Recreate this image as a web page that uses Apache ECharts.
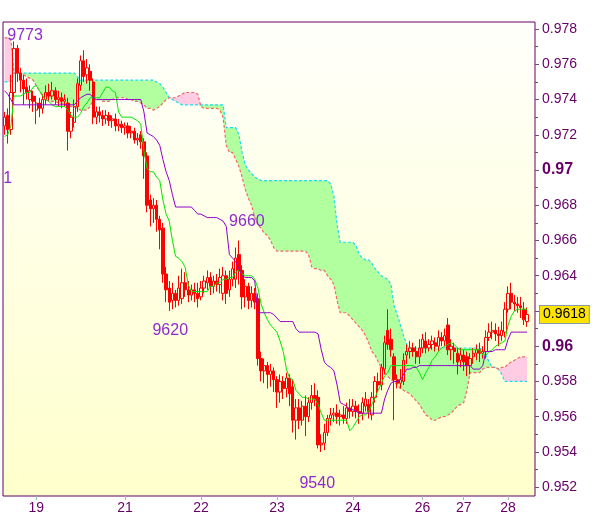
<!DOCTYPE html>
<html><head><meta charset="utf-8">
<script src="https://cdn.jsdelivr.net/npm/echarts@6/dist/echarts.min.js"></script>
<style>html,body{margin:0;padding:0;background:#fff;}#c{width:600px;height:519px;}</style>
</head><body><div id="c"></div>
<script>
// ---- data (prices in pips, 1 pip = 0.0001) ----
const slotCount = 168;
const open = [
9725,9731,9723,9744,9769,9755,9751,9747,9740,9742,
9734,9738,9735,9740,9744,9742,9745,9740,9741,9739,
9738,9722,9727,9736,9748,9762,9754,9756,9750,9730,
9733,9731,9729,9731,9728,9729,9725,9726,9724,9725,
9721,9722,9717,9720,9716,9708,9683,9678,9680,9672,
9667,9641,9633,9626,9630,9626,9627,9636,9632,9629,
9632,9630,9628,9633,9636,9639,9634,9637,9635,9630,
9640,9632,9638,9638,9652,9643,9628,9634,9626,9630,
9627,9593,9586,9589,9584,9586,9581,9574,9580,9576,
9582,9577,9558,9565,9558,9566,9560,9568,9572,9571,
9544,9545,9551,9559,9561,9562,9560,9561,9559,9565,
9563,9566,9563,9562,9566,9567,9561,9571,9580,9578,
9587,9609,9604,9594,9581,9579,9580,9595,9597,9599,
9597,9594,9599,9603,9599,9601,9602,9600,9605,9603,
9612,9598,9599,9596,9592,9595,9594,9589,9594,9596,
9598,9596,9597,9605,9608,9609,9607,9606,9608,9621,
9630,9625,9624,9623,9621,9614];
const close = [
9730,9723,9744,9769,9755,9751,9746,9744,9745,9739,
9738,9735,9740,9744,9742,9745,9740,9741,9739,9740,
9722,9730,9736,9749,9762,9753,9758,9751,9730,9733,
9731,9729,9731,9728,9729,9725,9726,9724,9725,9721,
9722,9717,9718,9716,9708,9680,9678,9680,9672,9666,
9641,9632,9625,9630,9626,9633,9636,9632,9629,9632,
9630,9627,9633,9637,9639,9634,9637,9635,9639,9640,
9630,9638,9644,9650,9643,9628,9634,9626,9630,9625,
9593,9586,9589,9584,9586,9581,9574,9580,9576,9582,
9573,9558,9565,9558,9566,9560,9568,9572,9570,9544,
9545,9551,9559,9561,9562,9560,9561,9559,9565,9563,
9566,9563,9562,9568,9570,9563,9571,9580,9578,9588,
9602,9601,9598,9581,9579,9581,9592,9597,9599,9597,
9594,9599,9604,9599,9601,9603,9600,9605,9603,9606,
9598,9600,9597,9591,9595,9591,9589,9593,9596,9598,
9596,9597,9605,9608,9609,9607,9606,9609,9621,9630,
9625,9624,9623,9622,9615,9618];
const low = [
9720,9715,9720,9740,9750,9744,9737,9740,9735,9733,
9726,9730,9732,9737,9739,9740,9737,9736,9735,9736,
9711,9718,9724,9733,9745,9750,9749,9745,9726,9726,
9727,9725,9726,9725,9724,9722,9722,9721,9720,9718,
9718,9715,9714,9712,9695,9676,9668,9670,9665,9655,
9636,9625,9620,9621,9622,9623,9624,9628,9625,9626,
9625,9622,9626,9630,9632,9629,9630,9631,9630,9626,
9624,9628,9634,9633,9635,9621,9622,9621,9622,9621,
9589,9580,9579,9576,9577,9574,9565,9568,9570,9571,
9566,9551,9547,9553,9555,9549,9557,9564,9566,9542,
9540,9541,9549,9555,9557,9556,9555,9556,9556,9559,
9560,9559,9556,9558,9563,9559,9558,9568,9574,9575,
9584,9598,9594,9558,9576,9576,9578,9590,9593,9594,
9590,9590,9596,9596,9597,9598,9597,9597,9600,9600,
9595,9592,9590,9584,9588,9586,9583,9584,9590,9592,
9591,9593,9593,9603,9604,9603,9600,9603,9605,9619,
9621,9620,9619,9616,9612,9611];
const high = [
9733,9735,9754,9773,9771,9758,9754,9752,9748,9745,
9742,9741,9743,9748,9749,9750,9747,9745,9744,9743,
9741,9733,9740,9752,9765,9768,9763,9760,9752,9736,
9736,9734,9734,9733,9731,9732,9729,9728,9727,9727,
9725,9724,9721,9722,9718,9710,9686,9684,9683,9674,
9670,9645,9637,9636,9632,9640,9644,9642,9637,9635,
9636,9636,9637,9640,9643,9642,9640,9641,9644,9645,
9643,9643,9648,9656,9660,9646,9638,9636,9634,9633,
9630,9597,9593,9591,9590,9588,9583,9584,9583,9585,
9584,9581,9570,9570,9569,9572,9571,9578,9579,9575,
9550,9556,9561,9565,9565,9567,9564,9566,9568,9570,
9570,9569,9567,9571,9574,9570,9574,9583,9585,9590,
9606,9621,9610,9596,9584,9587,9596,9601,9603,9602,
9600,9604,9607,9608,9604,9606,9605,9609,9608,9610,
9616,9604,9602,9599,9599,9598,9597,9596,9599,9601,
9602,9600,9609,9613,9614,9613,9611,9614,9625,9634,
9636,9629,9628,9628,9625,9622];
const tenkan = [
9719,9720,9725,9742,9742,9742,9743,9744,9744,9747,
9748,9745,9742,9740,9739,9737,9736,9736,9736,9736,
9734,9731,9730,9730,9732,9736,9738,9741,9741,9741,
9741,9744,9747,9747,9745,9744,9733,9730,9730,9730,
9730,9729,9728,9726,9711,9701,9699,9699,9696,9694,
9683,9675,9671,9660,9651,9650,9648,9645,9635,9631,
9631,9631,9631,9631,9631,9634,9634,9636,9636,9638,
9638,9639,9639,9642,9643,9641,9640,9640,9640,9638,
9633,9624,9619,9615,9612,9610,9608,9603,9597,9587,
9582,9581,9575,9573,9571,9571,9570,9570,9570,9567,
9562,9558,9558,9558,9558,9558,9558,9558,9558,9552,
9554,9557,9560,9561,9561,9563,9567,9571,9575,9579,
9583,9585,9589,9589,9589,9589,9589,9589,9589,9589,
9588,9585,9581,9585,9588,9592,9594,9597,9599,9600,
9601,9602,9601,9599,9598,9598,9598,9598,9598,9598,
9598,9595,9595,9597,9598,9600,9601,9602,9603,9612,
9617,9620,9621,9621,9621,9621];
const kijun = [
9745,9743,9740,9737,9737,9737,9737,9737,9737,9737,
9737,9737,9737,9737,9737,9737,9737,9737,9737,9737,
9737,9737,9737,9739,9741,9742,9743,9743,9741,9740,
9740,9740,9740,9740,9740,9740,9740,9740,9740,9740,
9740,9740,9740,9740,9733,9721,9720,9719,9717,9714,
9706,9699,9694,9686,9679,9679,9679,9679,9679,9679,
9677,9675,9675,9674,9673,9673,9673,9673,9672,9671,
9668,9652,9650,9648,9644,9640,9639,9639,9639,9637,
9619,9619,9619,9619,9619,9618,9616,9614,9614,9614,
9614,9614,9610,9608,9608,9608,9608,9608,9608,9607,
9598,9591,9589,9588,9586,9578,9568,9567,9566,9564,
9564,9563,9562,9562,9562,9562,9562,9562,9562,9562,
9570,9575,9579,9580,9580,9581,9584,9587,9587,9588,
9588,9589,9589,9589,9589,9589,9589,9589,9589,9589,
9589,9589,9589,9589,9589,9589,9589,9589,9587,9587,
9587,9589,9597,9597,9597,9598,9598,9598,9598,9604,
9608,9608,9608,9608,9608,9608];
const spanA = [
9750,9750,9750,9755,9755,9755,9755,9755,9755,9755,
9755,9755,9755,9755,9755,9755,9755,9755,9755,9755,
9755,9755,9755,9753,9751,9751,9751,9751,9751,9751,
9751,9751,9751,9751,9751,9751,9751,9751,9751,9751,
9751,9751,9751,9751,9751,9751,9751,9751,9750,9749,
9747,9744,9741,9740,9739,9738,9737,9737,9737,9737,
9737,9737,9737,9737,9737,9737,9737,9737,9737,9737,
9724,9724,9724,9724,9720,9710,9703,9700,9698,9696,
9695,9694,9694,9694,9694,9694,9694,9694,9694,9694,
9694,9694,9694,9694,9694,9694,9694,9694,9694,9694,
9694,9694,9694,9692,9685,9669,9659,9659,9659,9659,
9659,9657,9652,9650,9649,9649,9647,9644,9642,9640,
9639,9638,9635,9623,9618,9612,9606,9601,9599,9599,
9599,9599,9599,9599,9599,9599,9599,9599,9599,9599,
9599,9599,9599,9599,9599,9599,9599,9599,9599,9599,
9599,9598,9595,9591,9588,9588,9587,9584,9580,9580,
9580,9580,9580,9580,9580,9580];
const spanB = [
9775,9775,9774,9755,9755,9755,9754,9753,9752,9751,
9748,9745,9742,9740,9739,9739,9739,9738,9738,9737,
9737,9736,9736,9735,9734,9734,9734,9736,9740,9740,
9740,9739,9739,9739,9740,9741,9741,9741,9741,9740,
9740,9739,9739,9738,9737,9735,9735,9734,9735,9736,
9738,9740,9741,9741,9741,9742,9743,9744,9744,9744,
9744,9743,9736,9735,9735,9735,9735,9735,9734,9730,
9714,9710,9710,9706,9702,9696,9689,9684,9680,9673,
9669,9667,9664,9663,9660,9656,9654,9654,9654,9654,
9654,9654,9654,9654,9654,9654,9652,9645,9644,9644,
9643,9643,9640,9638,9635,9626,9619,9619,9619,9617,
9615,9613,9611,9609,9606,9602,9597,9595,9591,9588,
9585,9583,9581,9580,9578,9576,9575,9574,9573,9571,
9569,9567,9564,9561,9560,9558,9558,9559,9560,9560,
9561,9562,9564,9566,9567,9568,9575,9585,9585,9585,
9585,9587,9588,9588,9588,9588,9587,9588,9588,9590,
9591,9592,9593,9594,9594,9594];
const dayLabels = ['19','21','22','23','24','26','27','28'];
const dayIndex = [10,38,62,86,110,132,145,159];
const yLabelValues = [9520,9540,9560,9580,9600,9620,9640,9660,9680,9700,9720,9740,9760,9780];
const yMinorValues = [9530,9550,9570,9590,9610,9630,9650,9670,9690,9710,9730,9750,9770];
const yMin = 9515, yMax = 9784;
const lastPrice = 9618;
const annoText = ['9773','9660','9620','9540','1'];
const annoIndex = [3,74,52,100,0];
const annoValue = [9773,9660,9620,9540,9695];

// ---- build ----
const slots = Array.from({length: slotCount}, (_, i) => String(i));
const candles = open.map((o, i) => [o, close[i], low[i], high[i]]);
const cloudBase = spanA.map((a, i) => Math.min(a, spanB[i]));
const bullBand = spanA.map((a, i) => Math.max(a - spanB[i], 0));
const bearBand = spanA.map((a, i) => Math.max(spanB[i] - a, 0));
const annoOffset = [[11,-6],[8,-19],[1,20],[-4,32],[3,0]];

const FONT = '"Liberation Sans", Arial, sans-serif';
const AXIS_COL = '#660066';
const chart = echarts.init(document.getElementById('c'));
chart.setOption({
  animation: false,
  backgroundColor: '#ffffff',
  textStyle: {fontFamily: FONT},
  grid: {left: 3, right: 65, top: 22, bottom: 23, show: true, borderColor: AXIS_COL, borderWidth: 1,
    backgroundColor: {type: 'linear', x: 0, y: 0, x2: 0, y2: 1,
      colorStops: [{offset: 0, color: '#FFFFFB'}, {offset: 1, color: '#FFFFCC'}]}},
  xAxis: {type: 'category', data: slots, boundaryGap: true,
    axisLine: {show: false}, splitLine: {show: false},
    axisTick: {show: true, alignWithLabel: true, interval: (idx) => dayIndex.indexOf(idx) >= 0,
      length: 4, lineStyle: {color: '#A8B0B8'}},
    axisLabel: {interval: (idx) => dayIndex.indexOf(idx) >= 0,
      formatter: (v, idx) => dayLabels[dayIndex.indexOf(idx)] || '',
      color: AXIS_COL, fontSize: 14, margin: 5, fontFamily: FONT}},
  yAxis: [
    {type: 'value', position: 'right', min: yMin, max: yMax, splitLine: {show: false}, axisLine: {show: false},
      axisTick: {show: true, customValues: yLabelValues, length: 4, lineStyle: {color: '#7A4A7A'}},
      axisLabel: {customValues: yLabelValues, margin: 7,
        formatter: (v) => (v % 100 === 0 ? '{b|' : '{n|') + (v / 10000) + '}',
        rich: {n: {fontSize: 14, color: AXIS_COL, fontFamily: FONT},
               b: {fontSize: 16, fontWeight: 'bold', color: AXIS_COL, fontFamily: FONT}}}},
    {type: 'value', position: 'right', min: yMin, max: yMax, splitLine: {show: false}, axisLine: {show: false},
      axisTick: {show: true, customValues: yMinorValues, length: 3, lineStyle: {color: '#7A4A7A'}},
      axisLabel: {show: false}}
  ],
  series: [
    {type: 'line', data: cloudBase, stack: 'cloud', symbol: 'none', silent: true, z: 1,
      lineStyle: {opacity: 0}},
    {type: 'line', data: bullBand, stack: 'cloud', symbol: 'none', silent: true, z: 1,
      lineStyle: {opacity: 0}, areaStyle: {color: '#B2FFA0', opacity: 1}},
    {type: 'line', data: bearBand, stack: 'cloud', symbol: 'none', silent: true, z: 1,
      lineStyle: {opacity: 0}, areaStyle: {color: '#FFCCE4', opacity: 1}},
    {type: 'line', data: spanA, symbol: 'none', silent: true, z: 2,
      lineStyle: {color: '#19DDF0', width: 1.2, type: [3, 2]}},
    {type: 'line', data: spanB, symbol: 'none', silent: true, z: 2,
      lineStyle: {color: '#F26868', width: 1.2, type: [3, 2]}},
    {type: 'candlestick', data: candles, barWidth: 2.8, z: 3,
      itemStyle: {color: 'rgba(255,255,255,0)', color0: '#FF0000', borderColor: '#FF0000', borderColor0: '#FF0000', borderWidth: 1},
      markLine: {silent: true, symbol: ['none', 'none'], data: [{yAxis: lastPrice}],
        lineStyle: {color: 'rgba(0,0,0,0)', width: 1},
        label: {show: true, position: 'end', distance: 5, formatter: () => (lastPrice / 10000).toFixed(4),
          color: '#000000', fontSize: 14, fontFamily: FONT, backgroundColor: '#FFE400',
          borderColor: '#8899AA', borderWidth: 1, padding: [2, 3, 1, 3]}},
      markPoint: {silent: true, symbol: 'circle', symbolSize: 1, itemStyle: {color: 'rgba(0,0,0,0)'},
        label: {show: true, position: 'inside', color: '#8E2BCF', fontSize: 16, fontFamily: FONT},
        data: annoText.map((t, k) => ({coord: [annoIndex[k], annoValue[k]], value: annoValue[k],
          label: {formatter: t, offset: annoOffset[k]}}))}},
    {type: 'line', data: tenkan, symbol: 'none', silent: true, z: 4,
      lineStyle: {color: '#00E600', width: 1}},
    {type: 'line', data: kijun, symbol: 'none', silent: true, z: 4,
      lineStyle: {color: '#8F00D0', width: 1}}
  ]
});
</script>
</body></html>
